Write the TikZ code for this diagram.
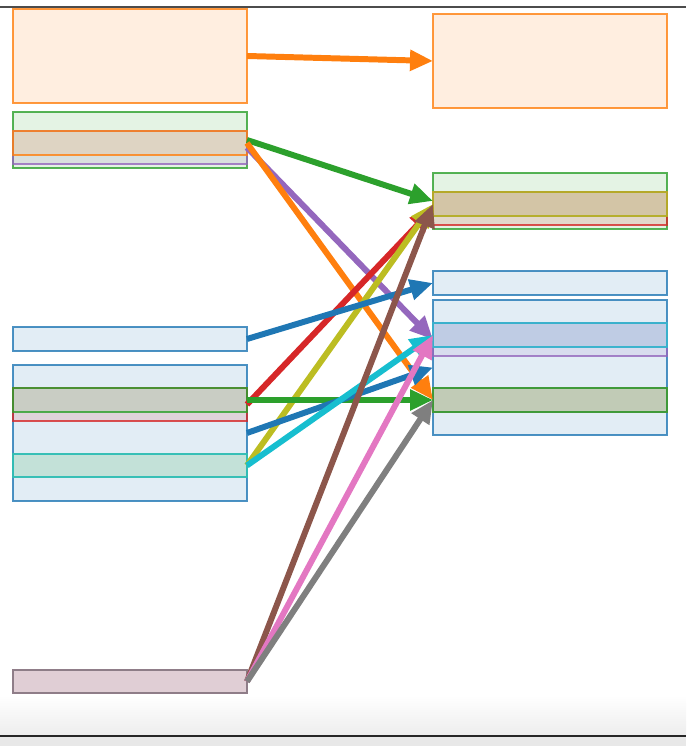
\documentclass[tikz,border=0pt]{standalone}
\usepackage{tikz}
\usetikzlibrary{arrows.meta,positioning}
\usepackage{xcolor}
\definecolor{tBlue}{RGB}{31,119,180}
\definecolor{tOrange}{RGB}{255,127,14}
\definecolor{tGreen}{RGB}{44,160,44}
\definecolor{tRed}{RGB}{214,39,40}
\definecolor{tPurple}{RGB}{148,103,189}
\definecolor{tBrown}{RGB}{140,86,75}
\definecolor{tPink}{RGB}{227,119,194}
\definecolor{tGray}{RGB}{127,127,127}
\definecolor{tOlive}{RGB}{188,189,34}
\definecolor{tCyan}{RGB}{23,190,207}
\tikzstyle{box} = [draw, rectangle, anchor=north west, inner sep=0pt, outer sep=0pt, minimum width=4.68cm, line width=0.9pt, draw opacity=0.8, fill opacity=0.13]
\tikzstyle{flow} = [line width=3.4pt, -{Triangle[length=0.46cm,width=0.4cm]}]

\begin{document}
\begin{tikzpicture}[x=0.02cm, y=-0.02cm]
\useasboundingbox (0,0) rectangle (686,746);
% window frame
\draw[line width=1.1pt, black!70] (0,7) -- (686,7);
\shade[top color=white, bottom color=black!7] (0,695) rectangle (686,735);
\fill[black!9] (0,736) rectangle (686,746);
\draw[line width=1pt, black!85] (0,736) -- (686,736);

% left column
\node[box, draw=tOrange, fill=tOrange, minimum height=1.88cm] (lorangeA) at (13,9) {};
\node[box, draw=tGreen, fill=tGreen, minimum height=1.12cm] (lgreenA) at (13,112) {};
\node[box, draw=tPurple, fill=tPurple, minimum height=0.66cm] (lpurple) at (13,131) {};
\node[box, draw=tOrange, fill=tOrange, minimum height=0.48cm] (lorangeB) at (13,131) {};
\node[box, draw=tBlue, fill=tBlue, minimum height=0.48cm] (lblueA) at (13,327) {};
\node[box, draw=tBlue, fill=tBlue, minimum height=2.72cm] (lblueB) at (13,365) {};
\node[box, draw=tRed, fill=tRed, minimum height=0.66cm] (lred) at (13,388) {};
\node[box, draw=tGreen, fill=tGreen, minimum height=0.48cm] (lgreenB) at (13,388) {};
\node[box, draw=tOlive, fill=tOlive, minimum height=0.46cm] (lolive) at (13,454) {};
\node[box, draw=tCyan, fill=tCyan, minimum height=0.46cm] (lcyan) at (13,454) {};
\node[box, draw=tBrown, fill=tBrown, minimum height=0.46cm] (lbrown) at (13,670) {};
\node[box, draw=tPink, fill=tPink, minimum height=0.46cm] (lpink) at (13,670) {};
\node[box, draw=tGray, fill=tGray, minimum height=0.46cm] (lgray) at (13,670) {};

% right column
\node[box, draw=tOrange, fill=tOrange, minimum height=1.88cm] (rorangeA) at (433,14) {};
\node[box, draw=tGreen, fill=tGreen, minimum height=1.12cm] (rgreenA) at (433,173) {};
\node[box, draw=tRed, fill=tRed, minimum height=0.66cm] (rred) at (433,192) {};
\node[box, draw=tBrown, fill=tBrown, minimum height=0.48cm] (rbrown) at (433,192) {};
\node[box, draw=tOlive, fill=tOlive, minimum height=0.48cm] (rolive) at (433,192) {};
\node[box, draw=tBlue, fill=tBlue, minimum height=0.48cm] (rblueA) at (433,271) {};
\node[box, draw=tBlue, fill=tBlue, minimum height=2.7cm] (rblueB) at (433,300) {};
\node[box, draw=tPurple, fill=tPurple, minimum height=0.66cm] (rpurple) at (433,323) {};
\node[box, draw=tPink, fill=tPink, minimum height=0.48cm] (rpink) at (433,323) {};
\node[box, draw=tCyan, fill=tCyan, minimum height=0.48cm] (rcyan) at (433,323) {};
\node[box, draw=tOrange, fill=tOrange, minimum height=0.48cm] (rorangeB) at (433,388) {};
\node[box, draw=tGray, fill=tGray, minimum height=0.48cm] (rgray) at (433,388) {};
\node[box, draw=tGreen, fill=tGreen, minimum height=0.48cm] (rgreenB) at (433,388) {};

% links
\draw[flow, tOrange] (lorangeA.east) -- (rorangeA.west);
\draw[flow, tGreen] (lgreenA.east) -- (rgreenA.west);
\draw[flow, tPurple] (lpurple.east) -- (rpurple.west);
\draw[flow, tOrange] (lorangeB.east) -- (rorangeB.west);
\draw[flow, tRed] (lred.east) -- (rred.west);
\draw[flow, tOlive] (lolive.east) -- (rolive.west);
\draw[flow, tGreen] (lgreenB.east) -- (rgreenB.west);
\draw[flow, tBlue] (lblueA.east) -- (rblueA.west);
\draw[flow, tBlue] (lblueB.east) -- (rblueB.west);
\draw[flow, tCyan] (lcyan.east) -- (rcyan.west);
\draw[flow, tBrown] (lbrown.east) -- (rbrown.west);
\draw[flow, tPink] (lpink.east) -- (rpink.west);
\draw[flow, tGray] (lgray.east) -- (rgray.west);
\end{tikzpicture}
\end{document}
